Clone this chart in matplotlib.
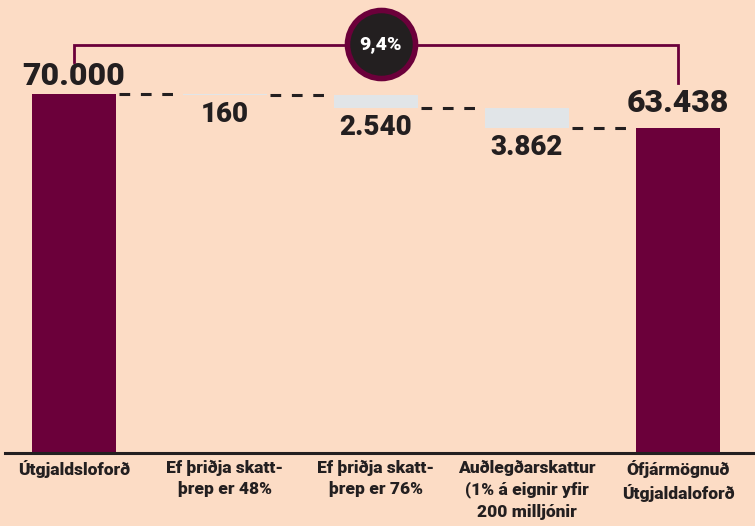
import matplotlib
matplotlib.use("Agg")
import matplotlib.pyplot as plt

categories = ["Útgjaldsloforð", "Ef þriðja skatt-\nþrep er 48%", "Ef þriðja skatt-\nþrep er 76%",
              "Auðlegðarskattur\n(1% á eignir yfir\n200 milljónir", "Ófjármögnuð\nÚtgjaldaloforð"]
start_value = 70000
decreases = [160, 2540, 3862]
end_value = 63438

BG = "#FCDCC5"
MAROON = "#6B003A"
LIGHT = "#E1E5E8"
DARK = "#231F20"
FONT = ["Roboto", "DejaVu Sans"]
WEIGHT = "heavy"

def fmt(v):
    return f"{v:,}".replace(",", ".")

fig = plt.figure(figsize=(7.55, 5.26), dpi=100, facecolor=BG)
ax = fig.add_axes([5/755, 73/526, 750/755, 453/526])
ax.set_facecolor(BG)
ax.set_xlim(-0.457, 4.51)
ymax = 453 / 359 * 70000
ax.set_ylim(0, ymax)
for s in ax.spines.values():
    s.set_visible(False)
ax.set_xticks([])
ax.set_yticks([])
ax.axhline(0, color=DARK, lw=2.2, zorder=5, clip_on=False)

w = 0.556
# start bar
ax.bar(0, start_value, width=w, color=MAROON, zorder=3)
ax.annotate(fmt(start_value), (0, start_value), xytext=(0, 2.5), textcoords="offset points",
            ha="center", va="bottom", fontsize=23, fontweight=WEIGHT, color=DARK, family=FONT)
level = start_value
tops = [start_value]
for i, d in enumerate(decreases, start=1):
    ax.bar(i, d, bottom=level - d, width=w, color=LIGHT, zorder=3)
    ax.annotate(fmt(d), (i, level - d), xytext=(0, -4.5), textcoords="offset points",
                ha="center", va="top", fontsize=20, fontweight=WEIGHT, color=DARK, family=FONT)
    tops.append(level)
    level -= d
tops.append(end_value)
# end bar
n = len(categories) - 1
ax.bar(n, end_value, width=w, color=MAROON, zorder=3)
ax.annotate(fmt(end_value), (n, end_value), xytext=(0, 7), textcoords="offset points",
            ha="center", va="bottom", fontsize=23, fontweight=WEIGHT, color=DARK, family=FONT)

# dashed connectors
for i in range(n):
    ax.plot([i + w/2 + 0.02, i + 1 - w/2 - 0.02], [tops[i+1], tops[i+1]], color=DARK,
            lw=2.2, ls=(0, (3.5, 3.5)), zorder=2)

# category labels
for i, c in enumerate(categories):
    ax.text(i, -1300, c, ha="center", va="top", fontsize=12.5, fontweight=WEIGHT,
            color=DARK, family=FONT, linespacing=1.42)

# bracket
yb = 79554
ax.plot([0, 0, n, n], [76240, yb, yb, 72145], color=MAROON, lw=2, zorder=4, clip_on=False,
        solid_joinstyle="miter")
pct = (start_value - end_value) / start_value * 100
cx = 2.03
ax.plot([cx], [yb + 250], marker="o", ms=49, mfc=DARK, mec=MAROON, mew=4, zorder=6, clip_on=False)
ax.text(cx, yb + 250, f"{pct:.1f}%".replace(".", ","), ha="center", va="center", fontsize=14,
        fontweight=WEIGHT, color="white", family=FONT, zorder=7)

fig.savefig("out.png", dpi=100, facecolor=BG)
